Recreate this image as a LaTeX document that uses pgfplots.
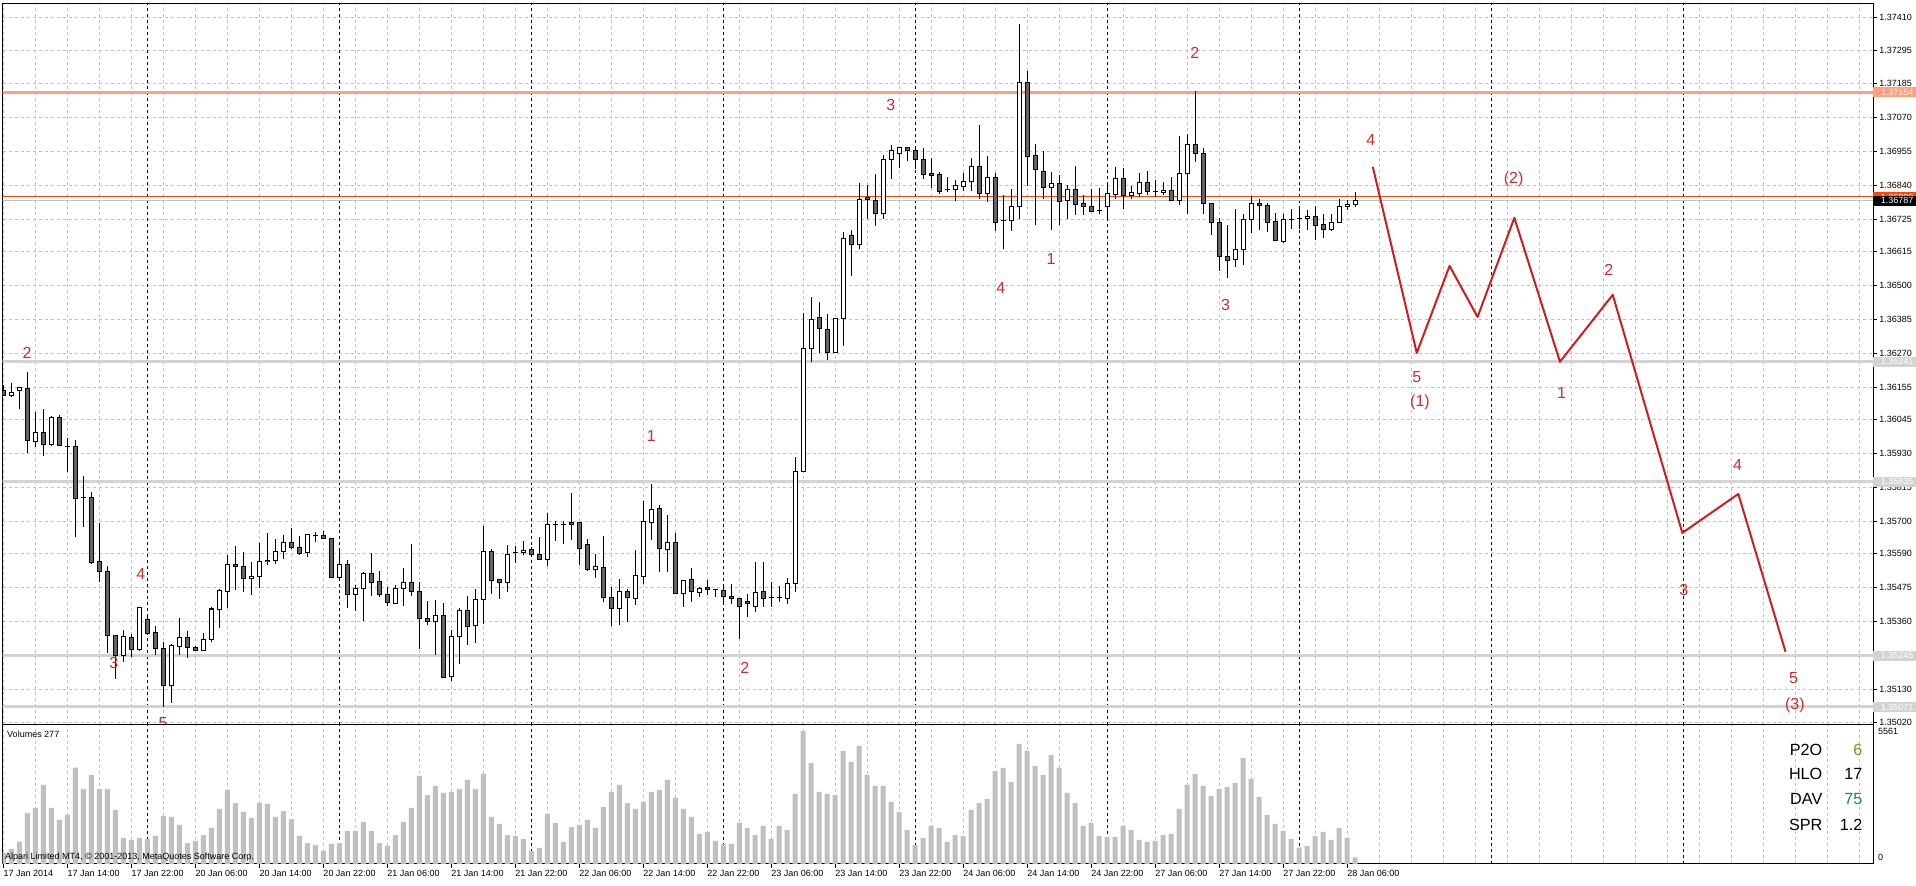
\documentclass[border=0pt]{standalone}
\usepackage{pgfplots}
\pgfplotsset{compat=1.18}
\usepackage{pgfplotstable}
\usepackage{fontspec}
\setmainfont{Liberation Sans}
\definecolor{gridgray}{RGB}{192,192,192}
\definecolor{bearfill}{RGB}{100,100,100}
\definecolor{salmonl}{RGB}{255,160,122}
\definecolor{orred}{RGB}{255,69,0}
\definecolor{lgray}{RGB}{211,211,211}
\definecolor{wave}{RGB}{204,30,30}
\definecolor{lblred}{RGB}{205,45,40}
\definecolor{volgray}{RGB}{192,192,192}
\definecolor{ind6}{RGB}{110,160,30}
\definecolor{ind75}{RGB}{30,140,60}

\pgfplotstableread{
n o h l c
0 1.36145 1.36164 1.36125 1.36128
1 1.36128 1.36169 1.36122 1.36137
2 1.36145 1.36155 1.36082 1.36155
3 1.36152 1.36207 1.35933 1.35975
4 1.35972 1.36071 1.35952 1.36003
5 1.36003 1.36080 1.35921 1.35960
6 1.35960 1.36058 1.35955 1.36053
7 1.36053 1.36060 1.35955 1.35957
8 1.35955 1.35983 1.35868 1.35955
9 1.35955 1.35975 1.35647 1.35777
10 1.35781 1.35854 1.35681 1.35781
11 1.35782 1.35799 1.35555 1.35560
12 1.35563 1.35695 1.35495 1.35531
13 1.35529 1.35548 1.35255 1.35314
14 1.35314 1.35316 1.35167 1.35246
15 1.35246 1.35331 1.35224 1.35311
16 1.35307 1.35318 1.35240 1.35267
17 1.35265 1.35409 1.35262 1.35407
18 1.35368 1.35376 1.35319 1.35321
19 1.35324 1.35346 1.35246 1.35269
20 1.35270 1.35291 1.35071 1.35145
21 1.35145 1.35286 1.35086 1.35278
22 1.35277 1.35373 1.35246 1.35307
23 1.35307 1.35328 1.35238 1.35273
24 1.35273 1.35278 1.35261 1.35263
25 1.35263 1.35321 1.35260 1.35301
26 1.35301 1.35409 1.35291 1.35403
27 1.35402 1.35470 1.35337 1.35467
28 1.35463 1.35587 1.35407 1.35555
29 1.35555 1.35617 1.35469 1.35548
30 1.35548 1.35597 1.35461 1.35506
31 1.35506 1.35563 1.35450 1.35514
32 1.35514 1.35627 1.35474 1.35563
33 1.35568 1.35661 1.35553 1.35564
34 1.35567 1.35641 1.35557 1.35599
35 1.35599 1.35654 1.35574 1.35629
36 1.35629 1.35678 1.35608 1.35610
37 1.35612 1.35651 1.35587 1.35592
38 1.35595 1.35656 1.35580 1.35656
39 1.35652 1.35664 1.35630 1.35652
40 1.35652 1.35667 1.35642 1.35643
41 1.35643 1.35645 1.35511 1.35511
42 1.35511 1.35610 1.35511 1.35555
43 1.35555 1.35569 1.35408 1.35453
44 1.35453 1.35484 1.35395 1.35474
45 1.35474 1.35529 1.35363 1.35524
46 1.35524 1.35593 1.35448 1.35494
47 1.35497 1.35532 1.35443 1.35453
48 1.35453 1.35477 1.35413 1.35426
49 1.35423 1.35484 1.35423 1.35474
50 1.35474 1.35542 1.35414 1.35494
51 1.35494 1.35625 1.35447 1.35463
52 1.35463 1.35495 1.35269 1.35372
53 1.35372 1.35429 1.35350 1.35362
54 1.35362 1.35433 1.35248 1.35382
55 1.35382 1.35423 1.35172 1.35172
56 1.35175 1.35333 1.35160 1.35311
57 1.35311 1.35408 1.35218 1.35399
58 1.35399 1.35447 1.35282 1.35345
59 1.35348 1.35472 1.35287 1.35436
60 1.35436 1.35685 1.35353 1.35597
61 1.35597 1.35606 1.35455 1.35501
62 1.35502 1.35502 1.35438 1.35494
63 1.35494 1.35621 1.35459 1.35589
64 1.35594 1.35617 1.35560 1.35594
65 1.35595 1.35634 1.35585 1.35602
66 1.35606 1.35613 1.35585 1.35589
67 1.35589 1.35647 1.35572 1.35572
68 1.35572 1.35729 1.35548 1.35691
69 1.35691 1.35701 1.35633 1.35691
70 1.35691 1.35701 1.35623 1.35691
71 1.35695 1.35797 1.35638 1.35690
72 1.35695 1.35695 1.35553 1.35608
73 1.35623 1.35640 1.35531 1.35538
74 1.35538 1.35590 1.35509 1.35546
75 1.35545 1.35651 1.35426 1.35443
76 1.35443 1.35476 1.35345 1.35406
77 1.35406 1.35506 1.35348 1.35463
78 1.35463 1.35472 1.35358 1.35443
79 1.35440 1.35604 1.35418 1.35517
80 1.35514 1.35769 1.35489 1.35701
81 1.35696 1.35826 1.35638 1.35741
82 1.35745 1.35755 1.35529 1.35608
83 1.35606 1.35721 1.35529 1.35630
84 1.35630 1.35661 1.35455 1.35455
85 1.35455 1.35501 1.35410 1.35501
86 1.35504 1.35542 1.35427 1.35463
87 1.35460 1.35478 1.35444 1.35473
88 1.35477 1.35501 1.35451 1.35470
89 1.35469 1.35472 1.35444 1.35469
90 1.35467 1.35488 1.35427 1.35446
91 1.35446 1.35488 1.35420 1.35438
92 1.35438 1.35441 1.35302 1.35410
93 1.35427 1.35455 1.35376 1.35420
94 1.35410 1.35563 1.35393 1.35460
95 1.35463 1.35563 1.35410 1.35438
96 1.35442 1.35495 1.35410 1.35442
97 1.35442 1.35481 1.35427 1.35442
98 1.35438 1.35508 1.35420 1.35490
99 1.35489 1.35919 1.35461 1.35870
100 1.35870 1.36408 1.35870 1.36286
101 1.36286 1.36461 1.36241 1.36385
102 1.36391 1.36444 1.36272 1.36354
103 1.36352 1.36403 1.36246 1.36272
104 1.36272 1.36389 1.36272 1.36389
105 1.36387 1.36681 1.36295 1.36660
106 1.36670 1.36689 1.36533 1.36638
107 1.36638 1.36847 1.36625 1.36792
108 1.36798 1.36840 1.36726 1.36791
109 1.36789 1.36876 1.36702 1.36743
110 1.36743 1.36941 1.36726 1.36928
111 1.36928 1.36977 1.36862 1.36958
112 1.36947 1.36968 1.36898 1.36968
113 1.36967 1.36967 1.36922 1.36957
114 1.36958 1.36967 1.36896 1.36928
115 1.36928 1.36966 1.36862 1.36877
116 1.36878 1.36932 1.36831 1.36873
117 1.36876 1.36885 1.36811 1.36819
118 1.36825 1.36868 1.36817 1.36825
119 1.36826 1.36857 1.36785 1.36837
120 1.36836 1.36881 1.36820 1.36853
121 1.36853 1.36933 1.36821 1.36904
122 1.36904 1.37043 1.36792 1.36813
123 1.36813 1.36938 1.36782 1.36867
124 1.36867 1.36882 1.36686 1.36714
125 1.36720 1.36806 1.36623 1.36720
126 1.36720 1.36826 1.36686 1.36768
127 1.36768 1.37385 1.36726 1.37189
128 1.37189 1.37227 1.36836 1.36938
129 1.36940 1.36979 1.36704 1.36894
130 1.36887 1.36956 1.36792 1.36833
131 1.36833 1.36884 1.36687 1.36846
132 1.36846 1.36874 1.36704 1.36785
133 1.36787 1.36842 1.36724 1.36826
134 1.36826 1.36905 1.36737 1.36775
135 1.36776 1.36808 1.36738 1.36768
136 1.36769 1.36828 1.36751 1.36751
137 1.36755 1.36830 1.36742 1.36755
138 1.36768 1.36843 1.36730 1.36813
139 1.36809 1.36902 1.36794 1.36864
140 1.36864 1.36899 1.36758 1.36806
141 1.36806 1.36837 1.36792 1.36814
142 1.36813 1.36880 1.36799 1.36850
143 1.36850 1.36887 1.36808 1.36819
144 1.36818 1.36857 1.36801 1.36818
145 1.36816 1.36850 1.36808 1.36823
146 1.36823 1.36868 1.36785 1.36787
147 1.36787 1.37006 1.36772 1.36880
148 1.36880 1.37013 1.36743 1.36977
149 1.36979 1.37159 1.36919 1.36948
150 1.36948 1.36967 1.36743 1.36779
151 1.36779 1.36779 1.36672 1.36714
152 1.36714 1.36729 1.36550 1.36599
153 1.36599 1.36706 1.36526 1.36585
154 1.36587 1.36758 1.36563 1.36623
155 1.36621 1.36742 1.36568 1.36724
156 1.36724 1.36802 1.36676 1.36779
157 1.36779 1.36792 1.36687 1.36772
158 1.36772 1.36779 1.36681 1.36714
159 1.36718 1.36747 1.36653 1.36653
160 1.36650 1.36742 1.36645 1.36724
161 1.36724 1.36758 1.36692 1.36724
162 1.36726 1.36758 1.36692 1.36726
163 1.36726 1.36755 1.36689 1.36734
164 1.36734 1.36768 1.36655 1.36704
165 1.36707 1.36741 1.36662 1.36689
166 1.36689 1.36743 1.36685 1.36714
167 1.36714 1.36792 1.36713 1.36768
168 1.36768 1.36789 1.36755 1.36775
169 1.36773 1.36817 1.36766 1.36787
}\candles

\pgfplotstableread{
n v
0 461
1 629
2 936
3 2137
4 2347
5 3311
6 2347
7 1844
8 2068
9 4037
10 3143
11 3730
12 3143
13 3143
14 2263
15 1090
16 1006
17 1090
18 1048
19 1173
20 2012
21 1970
22 1634
23 880
24 964
25 1215
26 1509
27 2305
28 3101
29 2557
30 2179
31 1928
32 2557
33 2515
34 1970
35 2221
36 1886
37 1173
38 880
39 796
40 545
41 838
42 880
43 1383
44 1383
45 1760
46 1383
47 880
48 754
49 1215
50 1760
51 2347
52 3688
53 2892
54 3269
55 2976
56 3018
57 3143
58 3520
59 3143
60 3772
61 1970
62 1676
63 1215
64 1173
65 1048
66 545
67 671
68 2096
69 1718
70 922
71 1551
72 1634
73 1844
74 1509
75 2389
76 3018
77 3311
78 2557
79 2305
80 2598
81 3018
82 3101
83 3520
84 2766
85 2305
86 1970
87 1257
88 1341
89 964
90 838
91 838
92 1718
93 1509
94 1215
95 1593
96 1048
97 1593
98 1425
99 2934
100 5561
101 4233
102 3018
103 2934
104 2892
105 4736
106 4275
107 4945
108 3730
109 3269
110 3269
111 2598
112 2179
113 1425
114 796
115 1090
116 1593
117 1509
118 922
119 1215
120 1173
121 2263
122 2557
123 2724
124 3898
125 4023
126 3437
127 5029
128 4736
129 4107
130 3730
131 4568
132 4023
133 2976
134 2557
135 1593
136 1718
137 1173
138 1132
139 1132
140 1593
141 1425
142 1006
143 922
144 964
145 1215
146 1257
147 2305
148 3311
149 3772
150 3269
151 2850
152 3143
153 3227
154 3395
155 4442
156 3562
157 2808
158 2054
159 1676
160 1383
161 1048
162 671
163 754
164 1173
165 1341
166 1006
167 1509
168 1090
169 277
}\volumes

\begin{document}
\begin{tikzpicture}[x=1pt,y=1pt]
% ---------------- main price panel ----------------
\begin{axis}[
  name=main,
  width=1870.6pt, height=721pt, scale only axis,
  xmin=-0.075, xmax=233.75, ymin=1.35010, ymax=1.37454,
  axis line style={black, line width=1pt},
  clip mode=individual,
  xtick={0,4,...,232}, xticklabels={}, xmajorgrids,
  extra x ticks={18,42,66,90,114,138,162,186,210}, extra x tick labels={},
  extra x tick style={major grid style={black, dash pattern=on 3pt off 3pt, line width=0.9pt}},
  ytick={1.37410,1.37295,1.37185,1.37070,1.36955,1.36840,1.36725,1.36615,1.36500,1.36385,1.36270,1.36155,1.36045,1.35930,1.35815,1.35700,1.35590,1.35475,1.35360,1.35245,1.35130,1.35020},
  yticklabels={1.37410,1.37295,1.37185,1.37070,1.36955,1.36840,1.36725,1.36615,1.36500,1.36385,1.36270,1.36155,1.36045,1.35930,1.35815,1.35700,1.35590,1.35475,1.35360,1.35245,1.35130,1.35020},
  ymajorgrids, ytick pos=right, yticklabel pos=right,
  grid style={gridgray, dash pattern=on 3pt off 3pt, line width=0.9pt},
  tick align=outside, major tick length=4pt,
  xtick style={draw=none}, ytick style={black, line width=0.9pt},
  yticklabel style={anchor=west, inner sep=0pt, xshift=2pt, font=\fontsize{9}{10}\selectfont},
]
\coordinate (msw) at (rel axis cs:0,0);
% horizontal levels
\addplot[salmonl, line width=3pt, forget plot] coordinates {(-1,1.37154) (240,1.37154)};
\addplot[lgray, line width=3pt, forget plot] coordinates {(-1,1.36241) (240,1.36241)};
\addplot[lgray, line width=3pt, forget plot] coordinates {(-1,1.35835) (240,1.35835)};
\addplot[lgray, line width=3pt, forget plot] coordinates {(-1,1.35245) (240,1.35245)};
\addplot[lgray, line width=3pt, forget plot] coordinates {(-1,1.35071) (240,1.35071)};
\addplot[orred, line width=1pt, forget plot] coordinates {(-1,1.36800) (240,1.36800)};
\addplot[gridgray, line width=1pt, forget plot] coordinates {(-1,1.36787) (240,1.36787)};
% wicks
\addplot[draw=none, mark=none, forget plot,
  error bars/.cd, y dir=plus, y explicit, error mark=none,
  error bar style={draw=black, solid, line width=1pt}]
  table[x=n, y=l, y error expr=\thisrow{h}-\thisrow{l}] {\candles};
% body outline
\addplot[draw=none, mark=none, forget plot,
  error bars/.cd, y dir=plus, y explicit, error mark=none,
  error bar style={draw=black, solid, line width=5pt}]
  table[x=n, y expr={min(\thisrow{o},\thisrow{c})-0.000017},
        y error expr={abs(\thisrow{c}-\thisrow{o})+0.000034}] {\candles};
% bull fill
\addplot[draw=none, mark=none, forget plot,
  error bars/.cd, y dir=plus, y explicit, error mark=none,
  error bar style={draw=white, solid, line width=3pt}]
  table[x=n, y expr={min(\thisrow{o},\thisrow{c})+0.000017},
        y error expr={(\thisrow{c}>\thisrow{o})*max(\thisrow{c}-\thisrow{o}-0.000034,0)}] {\candles};
% bear fill
\addplot[draw=none, mark=none, forget plot,
  error bars/.cd, y dir=plus, y explicit, error mark=none,
  error bar style={draw=bearfill, solid, line width=3pt}]
  table[x=n, y expr={min(\thisrow{o},\thisrow{c})+0.000017},
        y error expr={(\thisrow{o}>\thisrow{c})*max(\thisrow{o}-\thisrow{c}-0.000034,0)}] {\candles};
% projected wave
\addplot[wave, line width=2pt, line join=round] coordinates {
 (171.2,1.36902) (176.7,1.36271) (180.8,1.36566) (184.3,1.36393) (188.9,1.36729)
 (194.6,1.36241) (201.2,1.36468) (209.9,1.35661) (216.9,1.35793) (222.8,1.35258)};
% wave labels
\begin{scope}[every node/.style={text=lblred, font=\fontsize{16}{18}\selectfont, inner sep=0pt}]
\node at (axis cs:2.96,1.36271) {2};
\node at (axis cs:13.8,1.35220) {3};
\node at (axis cs:17.2,1.35522) {4};
\node at (axis cs:19.96,1.35017) {5};
\node at (axis cs:81.0,1.35990) {1};
\node at (axis cs:92.7,1.35203) {2};
\node at (axis cs:110.96,1.37112) {3};
\node at (axis cs:124.7,1.36491) {4};
\node at (axis cs:130.97,1.36590) {1};
\node at (axis cs:148.96,1.37288) {2};
\node at (axis cs:152.8,1.36434) {3};
\node at (axis cs:170.96,1.36993) {4};
\node at (axis cs:176.7,1.36190) {5};
\node at (axis cs:177.1,1.36105) {(1)};
\node at (axis cs:188.8,1.36861) {(2)};
\node at (axis cs:194.8,1.36135) {1};
\node at (axis cs:200.7,1.36552) {2};
\node at (axis cs:210.1,1.35468) {3};
\node at (axis cs:216.8,1.35891) {4};
\node at (axis cs:223.8,1.35169) {5};
\node at (axis cs:223.97,1.35078) {(3)};
\end{scope}
% price tags
\begin{scope}[every node/.style={anchor=west, inner sep=0pt, minimum height=10pt, minimum width=42.7pt, text=white, font=\fontsize{9}{10}\selectfont, align=left}]
\node[fill=salmonl] at (axis cs:233.75,1.37154) {\hspace*{5pt}1.37154\hfill};
\node[fill=orred] at (axis cs:233.75,1.36800) {\hspace*{5pt}1.36800\hfill};
\node[fill=black] at (axis cs:233.75,1.36787) {\hspace*{5pt}1.36787\hfill};
\node[fill=lgray] at (axis cs:233.75,1.36241) {\hspace*{5pt}1.36241\hfill};
\node[fill=lgray] at (axis cs:233.75,1.35835) {\hspace*{5pt}1.35835\hfill};
\node[fill=lgray] at (axis cs:233.75,1.35245) {\hspace*{5pt}1.35245\hfill};
\node[fill=lgray] at (axis cs:233.75,1.35071) {\hspace*{5pt}1.35071\hfill};
\end{scope}
\end{axis}
% ---------------- volume panel ----------------
\begin{axis}[
  at={([yshift=-3pt]msw)}, anchor=north west,
  width=1870.6pt, height=139pt, scale only axis,
  xmin=-0.075, xmax=233.75, ymin=0, ymax=5825,
  clip mode=individual,
  axis background/.style={fill=white},
  axis line style={black, line width=1pt},
  xtick={0,8,...,168},
  xticklabels={17 Jan 2014,17 Jan 14:00,17 Jan 22:00,20 Jan 06:00,20 Jan 14:00,20 Jan 22:00,21 Jan 06:00,21 Jan 14:00,21 Jan 22:00,22 Jan 06:00,22 Jan 14:00,22 Jan 22:00,23 Jan 06:00,23 Jan 14:00,23 Jan 22:00,24 Jan 06:00,24 Jan 14:00,24 Jan 22:00,27 Jan 06:00,27 Jan 14:00,27 Jan 22:00,28 Jan 06:00},
  minor xtick={4,12,...,164,172,176,...,232},
  xmajorgrids, xminorgrids,
  extra x ticks={18,42,66,90,114,138,162,186,210}, extra x tick labels={},
  extra x tick style={major grid style={black, dash pattern=on 3pt off 3pt, line width=0.9pt}, major tick length=0pt},
  grid style={gridgray, dash pattern=on 3pt off 3pt, line width=0.9pt},
  minor grid style={gridgray, dash pattern=on 3pt off 3pt, line width=0.9pt},
  ytick=\empty, xtick pos=bottom,
  tick align=outside, major tick length=4pt, minor tick length=0pt,
  xtick style={black, line width=0.9pt},
  xticklabel style={anchor=north west, inner sep=0pt, yshift=-2pt, font=\fontsize{9}{10}\selectfont},
]
\addplot[ybar, bar width=5pt, fill=volgray, draw=none] table[x=n, y=v] {\volumes};
\begin{scope}[every node/.style={inner sep=0pt, font=\fontsize{9}{10}\selectfont}]
\node[anchor=west] at (rel axis cs:0.0023,0.935) {Volumes 277};
\node[anchor=west] at (rel axis cs:0.0012,0.050) {Alpari Limited MT4, \textcopyright\ 2001-2013, MetaQuotes Software Corp.};
\node[anchor=west] at (rel axis cs:1.00251,0.950) {5561};
\node[anchor=west] at (rel axis cs:1.00251,0.050) {0};
\end{scope}
\begin{scope}[every node/.style={inner sep=0pt, font=\fontsize{16.2}{18}\selectfont}]
\node[anchor=east] at (rel axis cs:0.97295,0.8223) {P2O};
\node[anchor=east] at (rel axis cs:0.97295,0.6475) {HLO};
\node[anchor=east] at (rel axis cs:0.97295,0.4676) {DAV};
\node[anchor=east] at (rel axis cs:0.97295,0.2827) {SPR};
\node[anchor=east, text=ind6] at (rel axis cs:0.99433,0.8223) {6};
\node[anchor=east] at (rel axis cs:0.99433,0.6475) {17};
\node[anchor=east, text=ind75] at (rel axis cs:0.99433,0.4676) {75};
\node[anchor=east] at (rel axis cs:0.99433,0.2827) {1.2};
\end{scope}
\end{axis}
\path ([xshift=-2.7pt,yshift=-161pt]msw) rectangle ([xshift=1913.3pt,yshift=723pt]msw);
\end{tikzpicture}
\end{document}
